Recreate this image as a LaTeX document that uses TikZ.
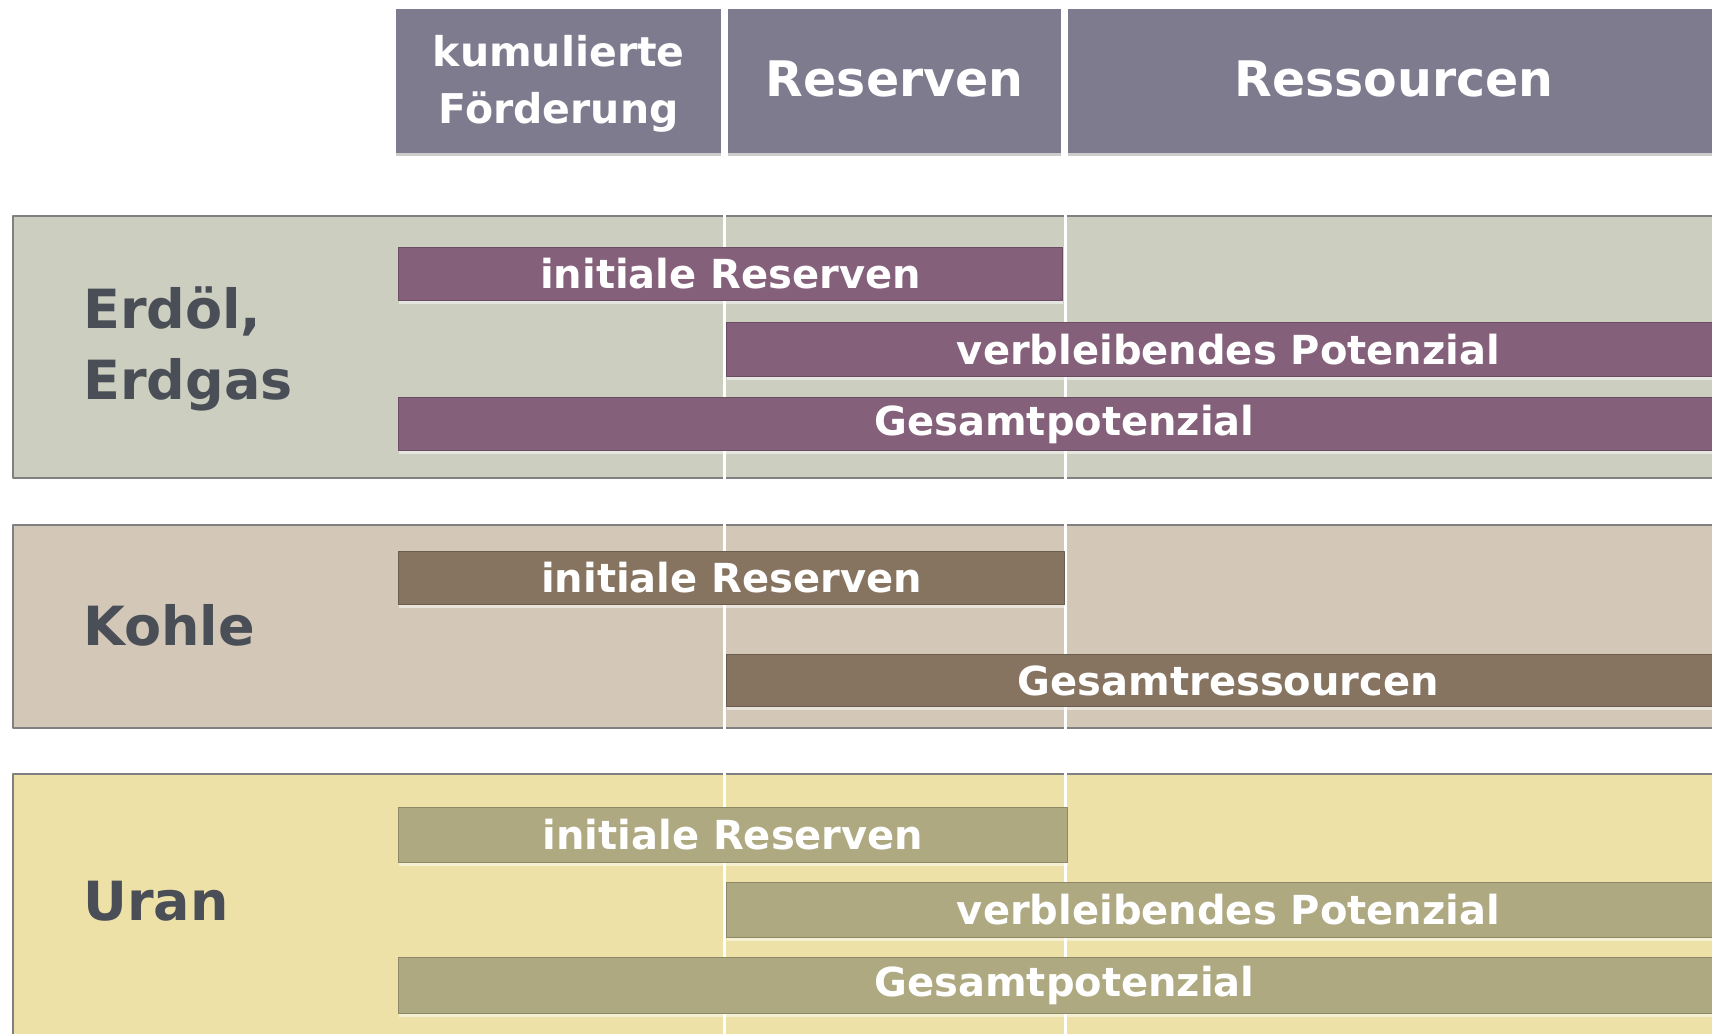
\documentclass[tikz,border=0pt]{standalone}
\usepackage{fontspec}
\setmainfont{DejaVu Sans}
\usepackage{xcolor}
\usetikzlibrary{shadows}
\definecolor{kopf}{RGB}{127,123,143}
\definecolor{oelband}{RGB}{204,206,192}
\definecolor{oelbar}{RGB}{133,96,122}
\definecolor{kohleband}{RGB}{211,199,183}
\definecolor{kohlebar}{RGB}{134,116,96}
\definecolor{uranband}{RGB}{237,225,168}
\definecolor{uranbar}{RGB}{174,169,129}
\definecolor{schrift}{RGB}{74,78,86}
\tikzset{
  every picture/.style={line join=round, line cap=round},
}
\begin{document}
\begin{tikzpicture}[x=1pt,y=-1pt,
  kopfbox/.style={fill=kopf, text=white, anchor=north west, inner sep=0pt, minimum height=144pt, align=center,
    drop shadow={shadow xshift=0pt, shadow yshift=-3pt, fill=black, opacity=0.2}},
  band/.style={fill=#1, draw=black!50, line width=2pt},
  bar/.style={fill=#1, draw=#1!80!black, line width=1pt, text=white, anchor=north west, inner sep=0pt,
    font=\bfseries\fontsize{40}{48}\selectfont,
    drop shadow={shadow xshift=0pt, shadow yshift=-3pt, fill=white, opacity=0.5}},
  stoff/.style={text=schrift, anchor=west, align=left, inner sep=0pt, font=\bfseries\fontsize{54}{71}\selectfont},
  trenn/.style={white, line width=3pt}]
\path[use as bounding box, clip] (0,0) rectangle (1712,1033);
\fill[white] (0,0) rectangle (1712,1033);
\node[kopfbox, minimum width=325pt, text depth=4pt, font=\bfseries\fontsize{41}{57}\selectfont] (kum) at (396,9) {kumulierte\\Förderung};
\node[kopfbox, minimum width=333pt, text depth=6pt, font=\bfseries\fontsize{49}{56}\selectfont] (res) at (728,9) {Reserven};
\node[kopfbox, minimum width=652pt, text depth=6pt, font=\bfseries\fontsize{49}{56}\selectfont] (ress) at (1068,9) {Ressourcen};
\draw[band=oelband] (13,216) rectangle (1740,478);
\draw[band=kohleband] (13,525) rectangle (1740,728);
\draw[band=uranband] (13,774) rectangle (1740,1050);
\draw[trenn] (724,160) -- (724,1040);
\draw[trenn] (1065,160) -- (1065,1040);
\node[stoff] (oel) at (83,349) {Erdöl,\\Erdgas};
\node[stoff] (kohle) at (83,625) {Kohle};
\node[stoff] (uran) at (83,901) {Uran};
\node[bar=oelbar, minimum width=664pt, minimum height=53pt] (oelIR) at (398,247) {initiale Reserven};
\node[bar=oelbar, minimum width=1004pt, minimum height=54pt] (oelVP) at (726,322) {verbleibendes Potenzial};
\node[bar=oelbar, minimum width=1332pt, minimum height=53pt] (oelGP) at (398,397) {Gesamtpotenzial};
\node[bar=kohlebar, minimum width=666pt, minimum height=53pt] (kohleIR) at (398,551) {initiale Reserven};
\node[bar=kohlebar, minimum width=1004pt, minimum height=52pt] (kohleGR) at (726,654) {Gesamtressourcen};
\node[bar=uranbar, minimum width=669pt, minimum height=55pt] (uranIR) at (398,807) {initiale Reserven};
\node[bar=uranbar, minimum width=1004pt, minimum height=55pt] (uranVP) at (726,882) {verbleibendes Potenzial};
\node[bar=uranbar, minimum width=1332pt, minimum height=56pt] (uranGP) at (398,957) {Gesamtpotenzial};
\end{tikzpicture}
\end{document}
